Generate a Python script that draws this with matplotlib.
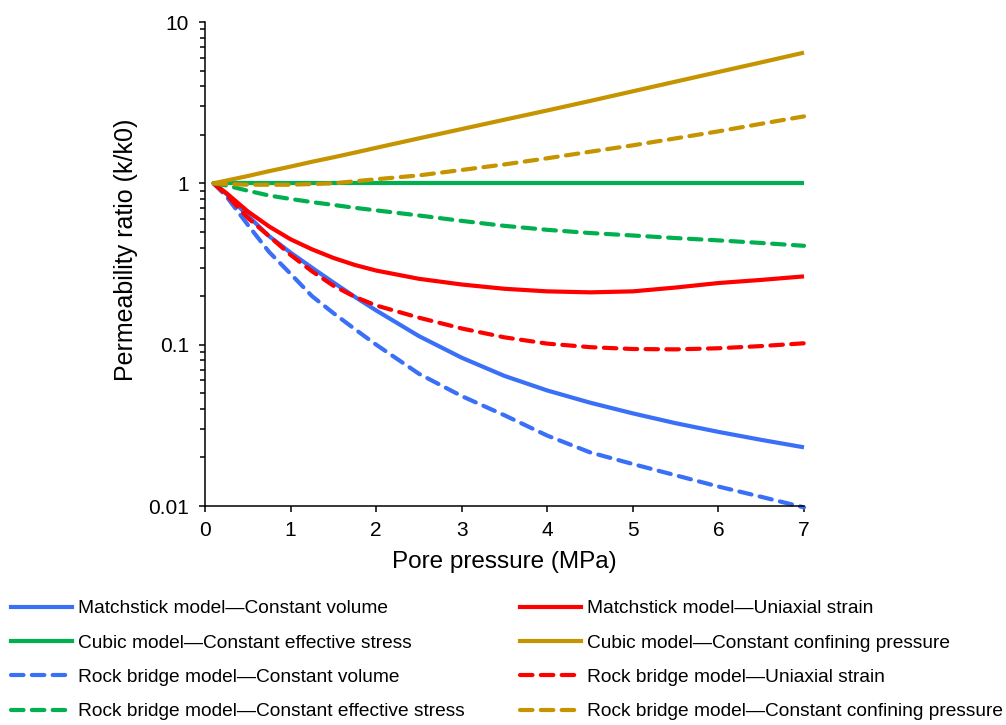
import numpy as np
import matplotlib.pyplot as plt
from matplotlib.lines import Line2D
from matplotlib.ticker import LogLocator, NullFormatter, FixedFormatter, FixedLocator

plt.rcParams['font.family'] = ['Liberation Sans', 'DejaVu Sans']

# pore pressure (MPa)
pressure = [0.1, 0.25, 0.5, 0.75, 1, 1.25, 1.5, 1.75, 2, 2.5, 3, 3.5, 4, 4.5, 5, 5.5, 6, 6.5, 7]

# permeability ratio k/k0
match_volume = [1.0, 0.86, 0.63, 0.47, 0.372, 0.30, 0.243, 0.198, 0.163, 0.113, 0.083, 0.064,
                0.052, 0.0437, 0.0375, 0.0326, 0.0288, 0.0257, 0.0231]
match_uniaxial = [1.0, 0.87, 0.67, 0.54, 0.45, 0.39, 0.345, 0.312, 0.288, 0.256, 0.236, 0.222,
                  0.214, 0.211, 0.214, 0.226, 0.241, 0.252, 0.265]
cubic_eff_stress = [1.0] * 19
cubic_confining = [1.0, 1.04, 1.11, 1.19, 1.27, 1.36, 1.45, 1.55, 1.66, 1.90, 2.17, 2.48,
                   2.83, 3.24, 3.72, 4.27, 4.90, 5.62, 6.46]
rb_volume = [1.0, 0.83, 0.553, 0.375, 0.275, 0.20, 0.157, 0.125, 0.100, 0.066, 0.048, 0.0365,
             0.0273, 0.0215, 0.0182, 0.0155, 0.0132, 0.0114, 0.0098]
rb_uniaxial = [1.0, 0.85, 0.61, 0.47, 0.36, 0.285, 0.232, 0.198, 0.175, 0.147, 0.126, 0.111,
               0.1015, 0.0965, 0.094, 0.0935, 0.095, 0.098, 0.102]
rb_eff_stress = [1.0, 0.97, 0.90, 0.84, 0.80, 0.765, 0.735, 0.705, 0.68, 0.632, 0.585, 0.545,
                 0.515, 0.492, 0.475, 0.458, 0.443, 0.427, 0.41]
rb_confining = [1.0, 0.99, 0.98, 0.98, 0.98, 0.99, 1.0, 1.03, 1.06, 1.12, 1.21, 1.31,
                1.43, 1.57, 1.72, 1.90, 2.10, 2.34, 2.6]

BLUE = "#3A6FF7"
RED = "#FF0000"
GREEN = "#00B050"
GOLD = "#C59400"
DASH = (0, (3.0, 2.0))
LW = 3.0

series = [
    ("Matchstick model\u2014Constant volume", match_volume, BLUE, "-"),
    ("Cubic model\u2014Constant effective stress", cubic_eff_stress, GREEN, "-"),
    ("Rock bridge model\u2014Constant volume", rb_volume, BLUE, DASH),
    ("Rock bridge model\u2014Constant effective stress", rb_eff_stress, GREEN, DASH),
    ("Matchstick model\u2014Uniaxial strain", match_uniaxial, RED, "-"),
    ("Cubic model\u2014Constant confining pressure", cubic_confining, GOLD, "-"),
    ("Rock bridge model\u2014Uniaxial strain", rb_uniaxial, RED, DASH),
    ("Rock bridge model\u2014Constant confining pressure", rb_confining, GOLD, DASH),
]

fig = plt.figure(figsize=(10.06, 7.25), dpi=100)
ax = fig.add_axes([205 / 1006, 1 - 506 / 725, 599 / 1006, 484 / 725])

# draw order roughly as in the source (gold on top of green etc.)
draw_order = [0, 2, 4, 6, 3, 1, 7, 5]
handles = [None] * len(series)
for i in draw_order:
    label, vals, color, ls = series[i]
    ax.plot(pressure, vals, color=color, lw=LW, linestyle=ls,
            dash_capstyle="round", solid_capstyle="butt", solid_joinstyle="round",
            clip_on=False)
    handles[i] = Line2D([], [], color=color, lw=LW, linestyle=ls,
                        dash_capstyle="round")

ax.set_yscale("log")
ax.set_xlim(0, 7)
ax.set_ylim(0.01, 10)
ax.set_xticks(range(0, 8))
ax.yaxis.set_major_locator(FixedLocator([0.01, 0.1, 1, 10]))
ax.yaxis.set_major_formatter(FixedFormatter(["0.01", "0.1", "1", "10"]))
ax.yaxis.set_minor_locator(LogLocator(base=10, subs=np.arange(2, 10), numticks=20))
ax.yaxis.set_minor_formatter(NullFormatter())

for s in ("top", "right"):
    ax.spines[s].set_visible(False)
for s in ("left", "bottom"):
    ax.spines[s].set_linewidth(1.1)
ax.tick_params(axis="both", which="major", direction="out", length=4.5, width=1.1,
               labelsize=15, color="black")
ax.tick_params(axis="y", which="major", pad=7)
ax.tick_params(axis="x", which="major", pad=6)
ax.tick_params(axis="y", which="minor", direction="out", length=3.5, width=1.1)

ax.set_xlabel("Pore pressure (MPa)", fontsize=17.5, labelpad=8)
ax.set_ylabel("Permeability ratio (k/k0)", fontsize=18)
ax.yaxis.set_label_coords(-0.112, 0.53)

fig.legend(handles=handles, labels=[s[0] for s in series], ncol=2,
           loc="upper left", bbox_to_anchor=(11 / 1006, 1 - 600 / 725),
           frameon=False, fontsize=13.8, handlelength=3.2, handletextpad=0.32,
           columnspacing=2.85, labelspacing=0.88, borderpad=0, borderaxespad=0)

fig.savefig("out.png", dpi=100)
